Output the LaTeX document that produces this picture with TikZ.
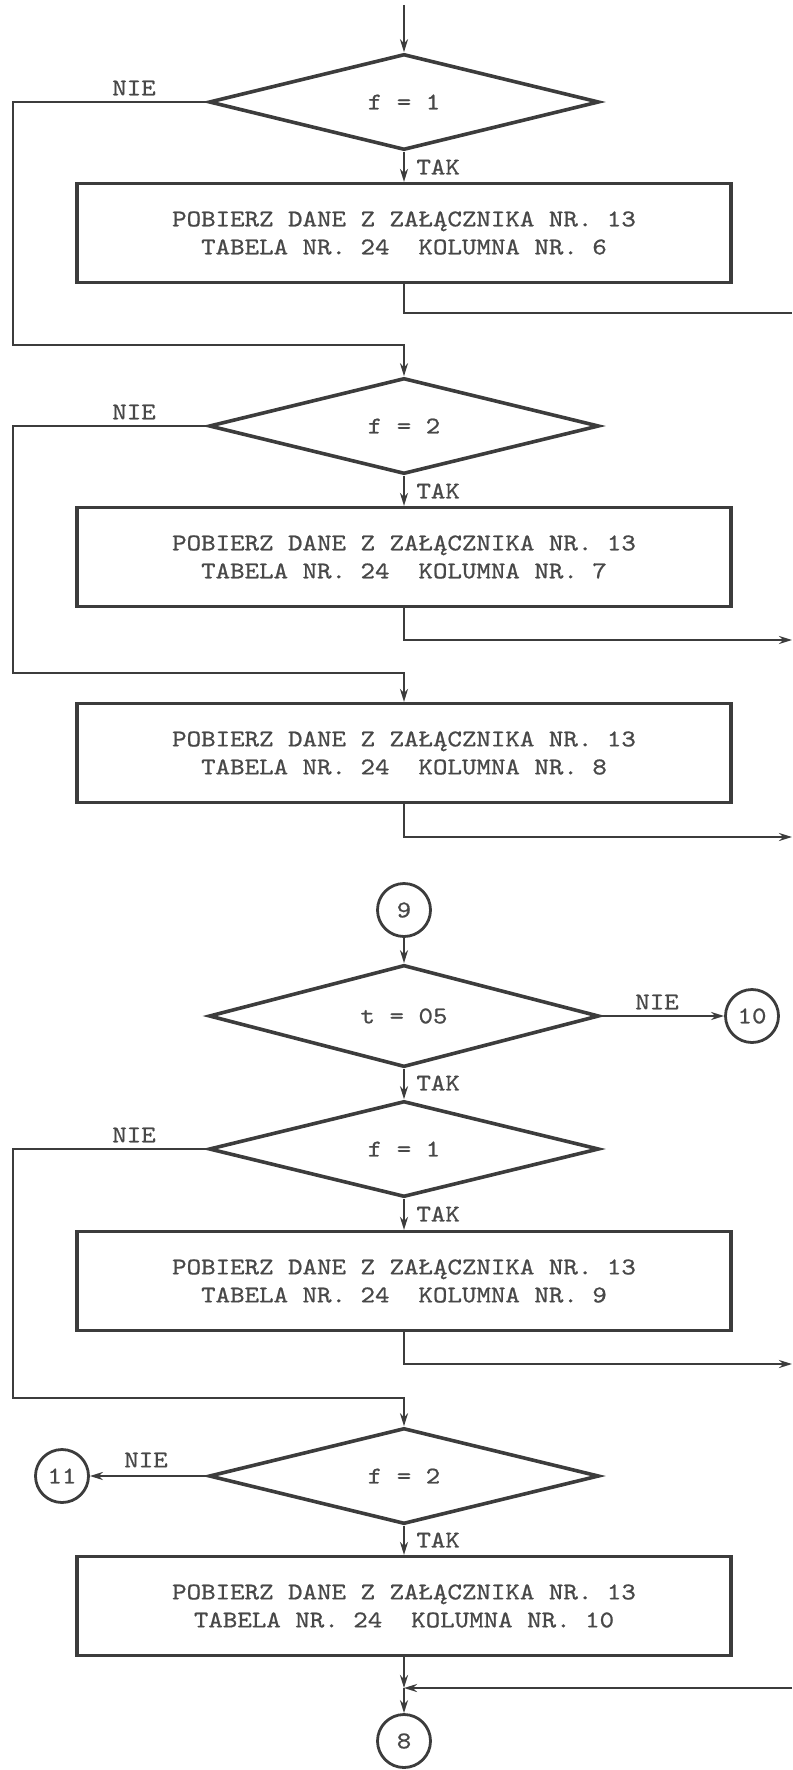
\documentclass[tikz,border=0pt]{standalone}
\usepackage{fontspec}
\usetikzlibrary{shapes.geometric,arrows.meta}
\newfontfamily\typewriter[FakeStretch=1.15,FakeBold=0.8]{lmmono10-regular.otf}
\definecolor{ink}{HTML}{3C3C3C}
\definecolor{inktext}{HTML}{484848}
\begin{document}
\begin{tikzpicture}[
  x=0.5pt, y=-0.5pt,
  every node/.style={font={\typewriter\fontsize{12}{14}\selectfont}, text=inktext},
  box/.style={draw=ink, line width=1.6pt, align=center, minimum width=327pt, minimum height=49.5pt, inner sep=0pt},
  test/.style={draw=ink, line width=1.8pt, diamond, minimum width=195pt, minimum height=48pt, inner sep=0pt},
  conn/.style={draw=ink, line width=1.4pt, circle, minimum size=26.5pt, inner sep=0pt},
  flow/.style={draw=ink, line width=1.4pt},
  arrow/.style={flow, -{Stealth[length=6.5pt,width=4pt]}},
  lbl/.style={inner sep=0pt}
]
\useasboundingbox (0,0) rectangle (792,1770);
\coordinate (entry) at (404,5);
\node[test] (d1) at (404,102) {f = 1};
\node[box] (b1) at (404,233) {POBIERZ DANE Z ZAŁĄCZNIKA NR. 13\\TABELA NR. 24~~KOLUMNA NR. 6};
\node[test] (d2) at (404,426) {f = 2};
\node[box] (b2) at (404,557) {POBIERZ DANE Z ZAŁĄCZNIKA NR. 13\\TABELA NR. 24~~KOLUMNA NR. 7};
\node[box] (b3) at (404,753) {POBIERZ DANE Z ZAŁĄCZNIKA NR. 13\\TABELA NR. 24~~KOLUMNA NR. 8};
\node[conn] (c9) at (404,910) {9};
\node[test] (d3) at (404,1016) {t = 05};
\node[conn] (c10) at (752,1016) {10};
\node[test] (d4) at (404,1149) {f = 1};
\node[box] (b4) at (404,1281) {POBIERZ DANE Z ZAŁĄCZNIKA NR. 13\\TABELA NR. 24~~KOLUMNA NR. 9};
\node[test] (d5) at (404,1476) {f = 2};
\node[conn] (c11) at (62,1476) {11};
\node[box] (b5) at (404,1606) {POBIERZ DANE Z ZAŁĄCZNIKA NR. 13\\TABELA NR. 24~~KOLUMNA NR. 10};
\node[conn] (c8) at (404,1741) {8};

\node[lbl] (nie1) at (134,88) {NIE};
\node[lbl] (nie2) at (134,412) {NIE};
\node[lbl] (nie3) at (657,1002) {NIE};
\node[lbl] (nie4) at (134,1135) {NIE};
\node[lbl] (nie5) at (146,1460) {NIE};
\node[lbl, anchor=west] (tak1) at (416,167) {TAK};
\node[lbl, anchor=west] (tak2) at (416,491) {TAK};
\node[lbl, anchor=west] (tak3) at (416,1083) {TAK};
\node[lbl, anchor=west] (tak4) at (416,1214) {TAK};
\node[lbl, anchor=west] (tak5) at (416,1540) {TAK};

\coordinate (bend1) at (13,345);
\coordinate (bend2) at (13,673);
\coordinate (bend4) at (13,1398);
\coordinate (out1) at (792,313);
\coordinate (out2) at (792,640);
\coordinate (out3) at (792,837);
\coordinate (out4) at (792,1364);
\coordinate (in5) at (792,1688);
\coordinate (join) at (404,1688);

\draw[arrow] (entry) -- (d1);
\draw[arrow] (d1) -- (b1);
\draw[arrow] (d1.west) -| (bend1) -| (d2.north);
\draw[flow] (b1.south) |- (out1);
\draw[arrow] (d2) -- (b2);
\draw[arrow] (d2.west) -| (bend2) -| (b3.north);
\draw[arrow] (b2.south) |- (out2);
\draw[arrow] (b3.south) |- (out3);
\draw[arrow] (c9) -- (d3);
\draw[arrow] (d3.east) -- (c10);
\draw[arrow] (d3) -- (d4);
\draw[arrow] (d4) -- (b4);
\draw[arrow] (d4.west) -| (bend4) -| (d5.north);
\draw[arrow] (b4.south) |- (out4);
\draw[arrow] (d5.west) -- (c11);
\draw[arrow] (d5) -- (b5);
\draw[arrow] (b5) -- (join);
\draw[arrow] (in5) -- (join);
\draw[arrow] (join) -- (c8);
\end{tikzpicture}
\end{document}
